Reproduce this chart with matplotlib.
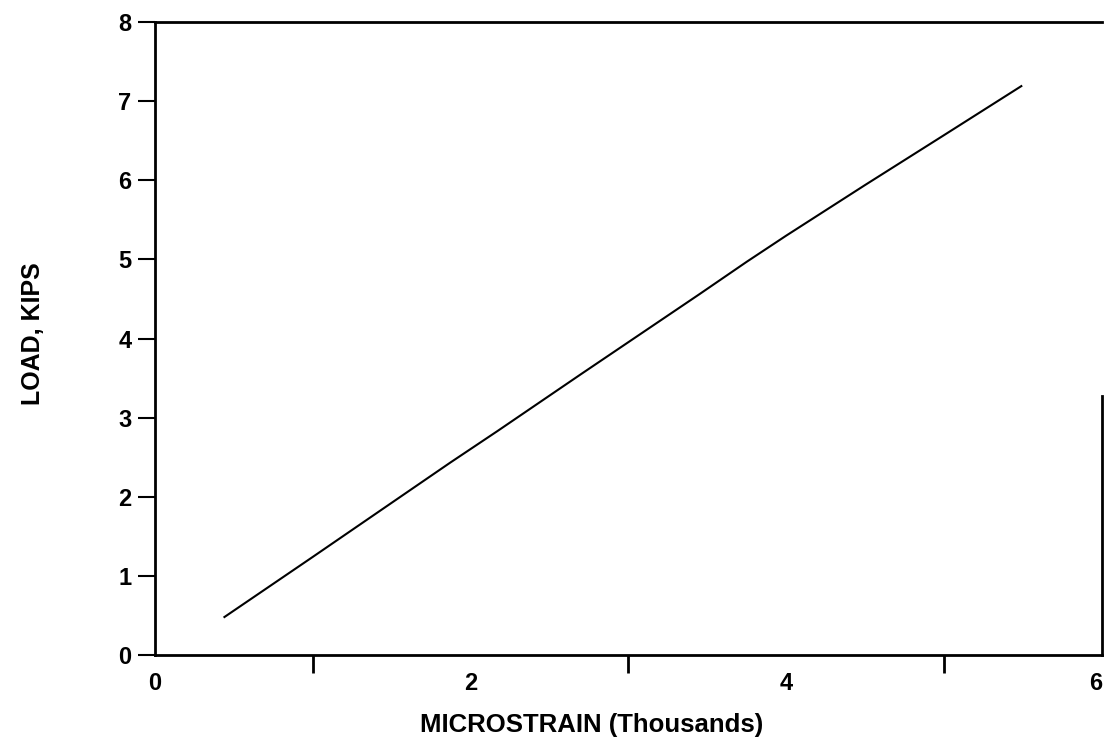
import numpy as np
import matplotlib.pyplot as plt

# Load vs. strain readings
microstrain = [0.44, 1.0, 1.87, 2.17, 2.7, 3.45, 3.75, 4.0, 4.5, 5.0, 5.49]  # thousands
load_kips = [0.48, 1.24, 2.43, 2.83, 3.55, 4.56, 4.97, 5.30, 5.94, 6.57, 7.19]

x_labels = [0, 2, 4, 6]
x_minor = [0, 1, 3, 5, 6]
y_ticks = [0, 1, 2, 3, 4, 5, 6, 7, 8]

plt.rcParams['font.family'] = ['Liberation Sans', 'DejaVu Sans']
plt.rcParams['font.weight'] = 'bold'

fig = plt.figure(figsize=(11.04, 7.54), dpi=100)
ax = fig.add_axes([0.1404, 0.1313, 0.8576, 0.8395])

ax.plot(microstrain, load_kips, color='black', linewidth=1.5)

ax.set_xlim(0, 6)
ax.set_ylim(0, 8)

ax.set_xticks(x_labels)
ax.set_xticks(x_minor, minor=True)
ax.set_yticks(y_ticks)
ax.tick_params(axis='x', which='major', length=0, pad=12, labelsize=17)
ax.tick_params(axis='x', which='minor', length=13, width=2, direction='out')
ax.tick_params(axis='y', length=12, width=1.5, direction='out', pad=5, labelsize=17)
# keep the last x label inside the figure
ax.get_xticklabels()[-1].set_horizontalalignment('right')

for side in ['left', 'bottom', 'top', 'right']:
    ax.spines[side].set_linewidth(2)
ax.spines['right'].set_bounds(0, 3.27)

ax.set_xlabel('MICROSTRAIN (Thousands)', fontsize=18.5, fontweight='bold')
ax.set_ylabel('LOAD, KIPS', fontsize=18, fontweight='bold')
ax.xaxis.set_label_coords(0.461, -0.091)
ax.yaxis.set_label_coords(-0.116, 0.507)

plt.savefig('out.png', dpi=100)
